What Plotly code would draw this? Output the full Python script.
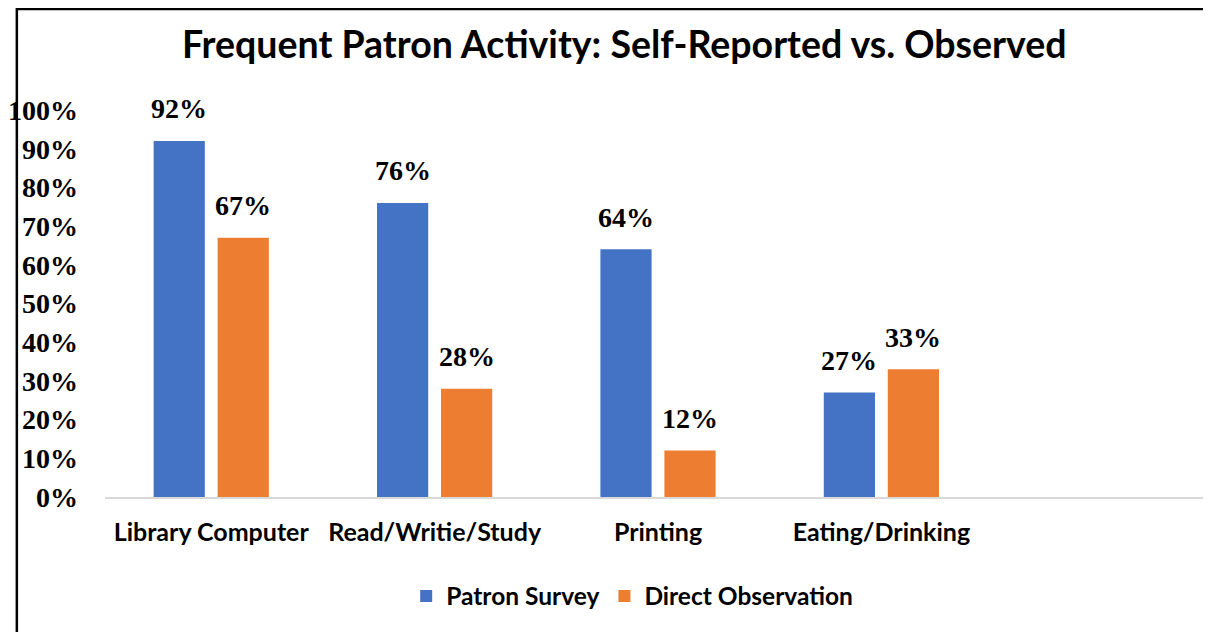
import plotly.graph_objects as go

categories = ["Library Computer", "Read/Writie/Study", "Printing", "Eating/Drinking"]
patron_survey = [0.92, 0.76, 0.64, 0.27]
direct_observation = [0.67, 0.28, 0.12, 0.33]
y_ticks = [i / 10 for i in range(11)]
y_tick_labels = [f"{i * 10}%" for i in range(11)]

series = [
    ("Patron Survey", patron_survey, "#4472C4"),
    ("Direct Observation", direct_observation, "#ED7D31"),
]

# page body adds an 8px margin; figure is sized so screen positions match
OFF = 8
W, H = 1211 - OFF, 632 - OFF
ML, MR, MT, MB = 97 - OFF, 0, 110 - OFF, 632 - 497
bargap = 0.427
bargroupgap = 0.2
CAT_PX = 225.0

sans = "Lato, 'Open Sans', sans-serif"
serif = "'Liberation Serif', 'Times New Roman', serif"

fig = go.Figure()
xs = list(range(len(categories)))
for name, vals, color in series:
    fig.add_trace(go.Bar(
        x=xs, y=vals, name=name,
        marker=dict(color=color, line=dict(width=0)),
        cliponaxis=False,
    ))

plot_w = W - ML - MR
plot_h = H - MT - MB

# data labels
slot = (1 - bargap) / len(series)
annotations = []
for k, (name, vals, color) in enumerate(series):
    off = (k - (len(series) - 1) / 2) * slot
    for i, v in enumerate(vals):
        annotations.append(dict(
            x=i + off, y=v, xref="x", yref="y",
            text=f"{round(v * 100)}%", showarrow=False,
            yanchor="middle", yshift=32,
            font=dict(family=serif, size=28, color="#000000", weight="bold"),
        ))

x0 = -0.5 + 5.5 / CAT_PX
fig.update_layout(
    width=W, height=H,
    margin=dict(l=ML, r=MR, t=MT, b=MB, pad=0),
    paper_bgcolor="white", plot_bgcolor="white",
    barmode="group", bargap=bargap, bargroupgap=bargroupgap,
    title=dict(
        text="Frequent Patron Activity: Self-Reported vs. Observed",
        x=(620 - OFF - ML) / plot_w, xref="paper", xanchor="center",
        y=1 - (45 - OFF) / H, yref="container", yanchor="middle",
        font=dict(family=sans, size=37.5, color="#000000", weight="bold"),
    ),
    showlegend=True,
    legend=dict(
        orientation="h", x=(628 - OFF - ML) / plot_w, xanchor="center",
        y=(MT + plot_h - (596 - OFF)) / plot_h, yanchor="middle",
        font=dict(family=sans, size=24.5, color="#000000", weight="bold"),
        itemwidth=30, tracegroupgap=0,
    ),
    annotations=annotations,
    shapes=[dict(
        type="rect", xref="paper", yref="paper",
        x0=(0.2 - ML) / plot_w, x1=1.1,
        y0=-0.6, y1=(MT + plot_h - 1.0) / plot_h,
        line=dict(color="#000000", width=2.5), fillcolor="rgba(0,0,0,0)",
        layer="above",
    )],
)
fig.update_xaxes(
    range=[x0, x0 + plot_w / CAT_PX],
    tickvals=xs, ticktext=categories,
    showgrid=False, zeroline=False,
    showline=True, linecolor="#D9D9D9", linewidth=2,
    ticks="", ticklabelstandoff=12,
    tickfont=dict(family=sans, size=25, color="#000000", weight="bold"),
)
fig.update_yaxes(
    range=[0, 1], tickvals=y_ticks, ticktext=y_tick_labels,
    showgrid=False, zeroline=False, showline=False,
    ticks="", ticklabelstandoff=26,
    tickfont=dict(family=serif, size=28, color="#000000", weight="bold"),
)
fig.write_html("out.html")
